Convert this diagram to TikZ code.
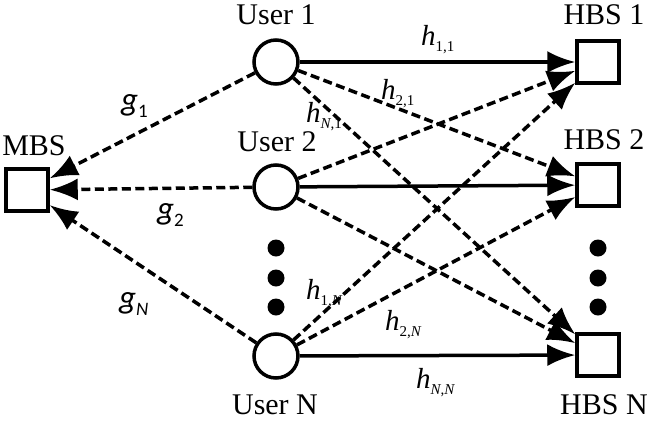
\documentclass[tikz,border=0pt]{standalone}
\usepackage{fontspec}
\setmainfont{Liberation Serif}
\newfontfamily\chanfont{Carlito}
\usepackage{tikz}
\usetikzlibrary{arrows.meta}
\newcommand{\hgain}[1]{{\itshape h}\raisebox{-6pt}{\fontsize{15}{15}\selectfont #1}}
\newcommand{\ggain}[1]{{\chanfont\itshape g}\raisebox{-7pt}{\fontsize{19}{19}\selectfont\chanfont #1}}

\begin{document}
\begin{tikzpicture}[x=1pt,y=-1pt,
  user/.style={circle,draw,line width=3.5pt,minimum size=44pt,inner sep=0pt},
  bs/.style={rectangle,draw,line width=3.5pt,minimum size=42pt,inner sep=0pt},
  dot/.style={circle,fill,minimum size=17pt,inner sep=0pt},
  lbl/.style={font=\fontsize{30}{36}\selectfont,inner sep=0pt},
  hlbl/.style={font=\fontsize{29}{32}\selectfont,inner sep=0pt,anchor=base west},
  glbl/.style={font=\fontsize{33}{36}\selectfont,inner sep=0pt,anchor=base west},
  link/.style={line width=3.5pt,-{Latex[length=28pt,width=22pt]}},
  weak/.style={link,dash pattern=on 9pt off 4.5pt}
]
\useasboundingbox (0,0) rectangle (654,424);
% stations and users
\node[bs] (mbs) at (27,190) {};
\node[user] (u1) at (276,62) {};
\node[user] (u2) at (276,187) {};
\node[user] (un) at (276,356) {};
\node[bs] (h1) at (598,62) {};
\node[bs] (h2) at (598,185) {};
\node[bs] (hn) at (598,355) {};
% ellipsis dots
\foreach \y [count=\i] in {248,278,307} {
  \node[dot] (ld\i) at (276,\y) {};
  \node[dot] (rd\i) at (598,\y) {};
}
% names
\node[lbl] (tmbs) at (34,146) {MBS};
\node[lbl] (tu1) at (276,15) {User 1};
\node[lbl] (tu2) at (277,142) {User 2};
\node[lbl] (tun) at (275,405) {User N};
\node[lbl] (th1) at (604,15) {HBS 1};
\node[lbl] (th2) at (604,140) {HBS 2};
\node[lbl] (thn) at (604,405) {HBS N};
% links to the MBS
\draw[weak] (u1) -- (mbs);
\draw[weak] (u2) -- (mbs);
\draw[weak] (un) -- (mbs);
% links to the HBSs
\draw[link] (u1) -- (h1);
\draw[weak] (u1) -- (h2);
\draw[weak] (u1) -- (hn);
\draw[weak] (u2) -- (h1);
\draw[link] (u2) -- (h2);
\draw[weak] (u2) -- (hn);
\draw[weak] (un) -- (h1);
\draw[weak] (un) -- (h2);
\draw[link] (un) -- (hn);
% channel gains
\node[glbl] (g1) at (121,110) {\ggain{1}};
\node[glbl] (g2) at (157,219) {\ggain{2}};
\node[glbl] (gn) at (119,308) {\ggain{\itshape N}};
\node[hlbl] (h11) at (421,45) {\hgain{1,1}};
\node[hlbl] (h21) at (381,99) {\hgain{2,1}};
\node[hlbl] (hn1) at (306,122) {\hgain{{\itshape N},1}};
\node[hlbl] (h1n) at (306,299) {\hgain{1,{\itshape N}}};
\node[hlbl] (h2n) at (385,330) {\hgain{2,{\itshape N}}};
\node[hlbl] (hnn) at (416,388) {\hgain{{\itshape N},{\itshape N}}};
\end{tikzpicture}
\end{document}
